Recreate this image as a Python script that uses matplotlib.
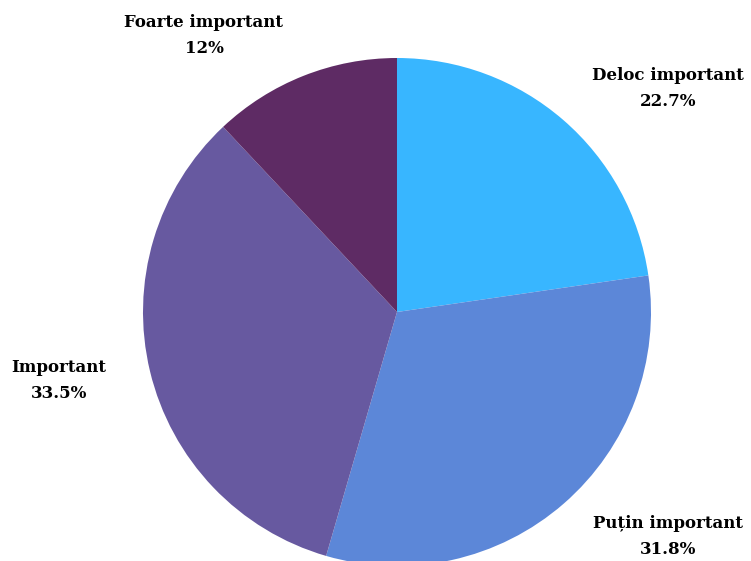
# Pie chart: how important (Romanian survey answers).

import matplotlib.pyplot as plt

# Data, clockwise from 12 o'clock.
labels = ['Deloc important', 'Puțin important', 'Important', 'Foarte important']
values = [22.7, 31.8, 33.5, 12.0]
pct_labels = ['22.7%', '31.8%', '33.5%', '12%']
colors = ['#38B6FF', '#5C87D8', '#6759A0', '#5E2B64']

W, H = 751, 561
fig = plt.figure(figsize=(W / 100, H / 100), dpi=100)
ax = fig.add_axes([0, 0, 1, 1])
ax.set_xlim(0, W)
ax.set_ylim(0, H)
ax.set_aspect('equal')
ax.axis('off')

ax.pie(values, colors=colors, startangle=90, counterclock=False,
       center=(397, H - 312), radius=254, frame=True,
       wedgeprops={'linewidth': 0})
ax.set_xlim(0, W)
ax.set_ylim(0, H)
ax.axis('off')

# Label positions in pixels (x, y from top).
label_pos = [(668, 75), (668, 523), (59, 368), (204, 22)]
for name, pct, (x, y) in zip(labels, pct_labels, label_pos):
    ax.text(x, H - y, name, ha='center', va='center', fontsize=12,
            fontweight='bold', family='DejaVu Serif')
    ax.text(x, H - y - 26, pct, ha='center', va='center', fontsize=12,
            fontweight='bold', family='DejaVu Serif')

fig.savefig('out.png', dpi=100)
